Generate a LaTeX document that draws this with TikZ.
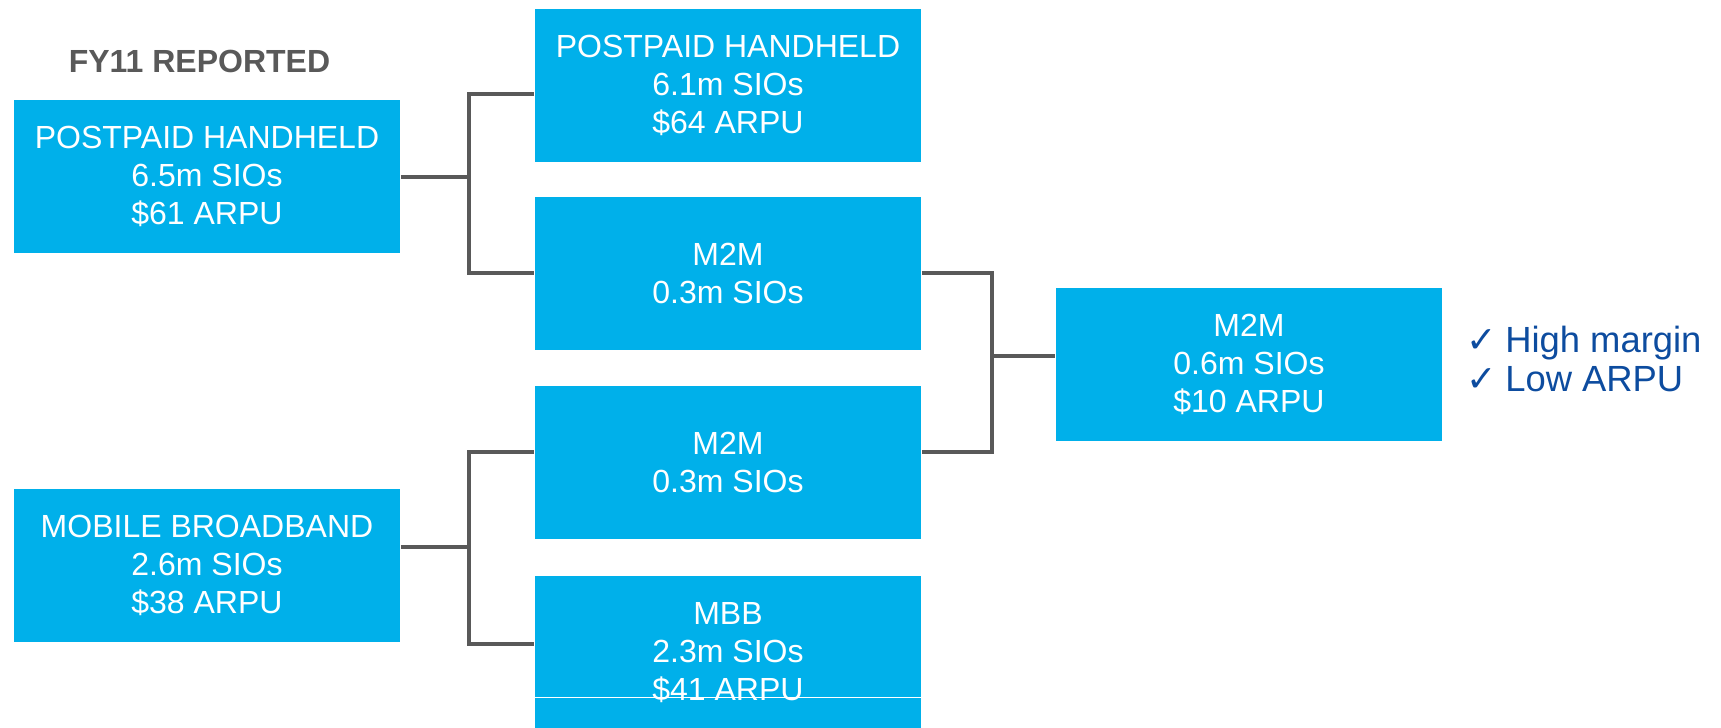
\documentclass[tikz,border=0pt]{standalone}
\usepackage{fontspec}
\setmainfont{Liberation Sans}
\newfontfamily\symfont{DejaVu Sans}
\usepackage{tikz}
\usetikzlibrary{calc}
\definecolor{boxblue}{HTML}{00B0EA}
\definecolor{linkgray}{HTML}{595959}
\definecolor{checkblue}{HTML}{0D4C9F}

\begin{document}
\begin{tikzpicture}[x=0.5pt,y=-0.5pt,thick]
\tikzstyle{box} = [rectangle, fill=boxblue, text=white, inner sep=0pt, minimum width=193pt, minimum height=76.5pt, align=center, font=\fontsize{16}{19}\selectfont]
\tikzstyle{link} = [draw=linkgray, line width=1.7pt]
\tikzstyle{check} = [anchor=base west, inner sep=0pt, text=checkblue, font=\fontsize{18.2}{19.5}\selectfont]

\useasboundingbox (0,0) rectangle (1721,728);

\node (title) at (199.5,72) [anchor=base, inner sep=0pt, text=linkgray, font=\fontsize{16}{19}\selectfont\bfseries] {FY11 REPORTED};

\node (ph11) at (207,176.5) [box] {POSTPAID HANDHELD\\6.5m SIOs\\\$61 ARPU};
\node (mbb11) at (207,565.5) [box] {MOBILE BROADBAND\\2.6m SIOs\\\$38 ARPU};

\node (ph) at (728,85.5) [box] {POSTPAID HANDHELD\\6.1m SIOs\\\$64 ARPU};
\node (m2ma) at (728,273) [box] {M2M\\0.3m SIOs};
\node (m2mb) at (728,462.5) [box] {M2M\\0.3m SIOs};
\node (mbb) at (728,652.5) [box] {MBB\\2.3m SIOs\\\$41 ARPU};

\node (m2m) at (1249,364) [box] {M2M\\0.6m SIOs\\\$10 ARPU};

\node (chk1) at (1466,352) [check] {{\symfont ✓}\hspace{4pt}High margin};
\node (chk2) at (1466,391) [check] {{\symfont ✓}\hspace{4pt}Low ARPU};

% forks
\coordinate (fork1) at (469,177);
\coordinate (fork2) at (469,547);
\coordinate (fork3) at (992,356);

\path[link]
    (ph11.east |- fork1) -- (fork1)
    ([yshift=-4.25pt]ph.west) -| (fork1) |- (m2ma.west)
    (mbb11.east |- fork2) -- (fork2)
    ([yshift=5.25pt]m2mb.west) -| (fork2) |- ([yshift=4.25pt]mbb.west)
    (m2ma.east) -| (fork3) |- ([yshift=5.25pt]m2mb.east)
    (fork3) -- (m2m.west |- fork3);

\draw[white, line width=0.5pt] (mbb.west |- 0,697) -- (mbb.east |- 0,697);

\end{tikzpicture}
\end{document}
